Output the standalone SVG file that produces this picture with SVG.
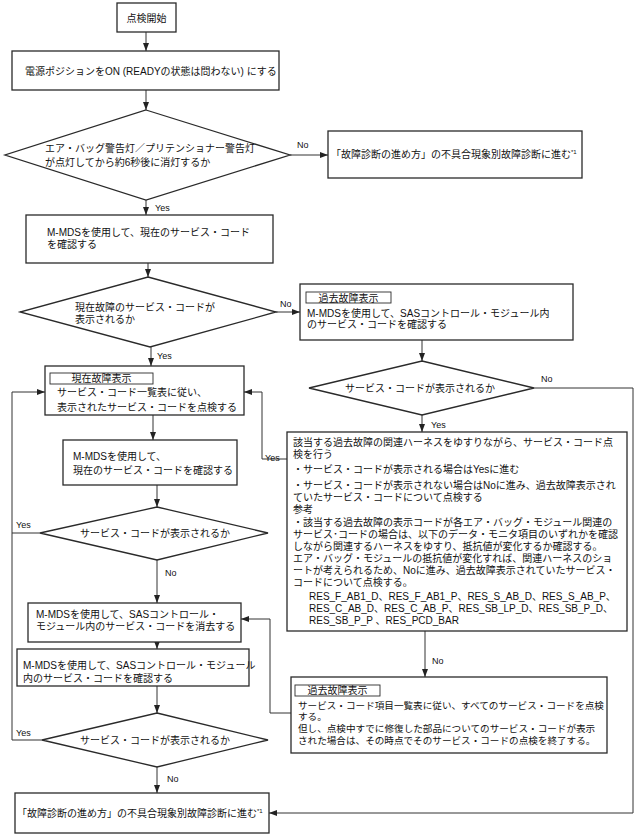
<svg xmlns="http://www.w3.org/2000/svg" width="636" height="836" viewBox="0 0 636 836">
<style>
.b{fill:#fff;stroke:#2a2a2a;stroke-width:1.3}
.lb{fill:#fff;stroke:#2a2a2a;stroke-width:0.9}
.t{font-family:"Liberation Sans","Noto Sans CJK JP",sans-serif;font-size:10px;fill:#111}
.sm{font-size:9.6px}
.m{text-anchor:middle}
.y{font-family:"Liberation Sans",sans-serif;font-size:9px;fill:#111}
.s{font-size:6px}
.c{fill:none;stroke:#333;stroke-width:1}
.a{marker-end:url(#ah)}
</style>
<defs>
<marker id="ah" markerUnits="userSpaceOnUse" markerWidth="9" markerHeight="6" refX="8" refY="3" orient="auto">
<path d="M0,0 L8,3 L0,6 z" fill="#222"/>
</marker>
</defs>
<rect width="636" height="836" fill="#fff"/>

<g id="connectors">
<path class="c a" d="M146,32 V51"/>
<path class="c a" d="M146,90 V110"/>
<path class="c a" d="M290,155 H328"/>
<path class="c a" d="M146,200 V215"/>
<path class="c a" d="M148,263 V277"/>
<path class="c a" d="M276,312 H300"/>
<path class="c a" d="M151,347 V366"/>
<path class="c a" d="M422,340 V361"/>
<path class="c a" d="M422,415 V432"/>
<path class="c" d="M534,388 H633 V813"/>
<path class="c a" d="M633,813 H269"/>
<path class="c a" d="M287,459 H262 V392 H244"/>
<path class="c a" d="M153,415 V440"/>
<path class="c a" d="M157,485 V507"/>
<path class="c" d="M40,533 H12"/>
<path class="c a" d="M42,740 H12 V392 H45"/>
<path class="c a" d="M157,560 V603"/>
<path class="c a" d="M425,631 V677"/>
<path class="c a" d="M291,713 H270 V619 H241"/>
<path class="c a" d="M157,642 V649"/>
<path class="c a" d="M157,686 V713"/>
<path class="c a" d="M157,767 V793"/>
<text class="y" x="297" y="148">No</text>
<text class="y" x="155" y="211">Yes</text>
<text class="y" x="280" y="307">No</text>
<text class="y" x="157" y="359">Yes</text>
<text class="y" x="541" y="382">No</text>
<text class="y" x="431" y="428">Yes</text>
<text class="y" x="265" y="461">Yes</text>
<text class="y" x="16" y="528">Yes</text>
<text class="y" x="165" y="576">No</text>
<text class="y" x="432" y="664">No</text>
<text class="y" x="16" y="736">Yes</text>
<text class="y" x="167" y="782">No</text>
</g>

<g id="start">
<rect class="b" x="117" y="3" width="59" height="29"/>
<text class="t m" x="146.5" y="21.5">点検開始</text>
</g>

<g id="power">
<rect class="b" x="12" y="51" width="267" height="39"/>
<text class="t" x="25" y="75">電源ポジションをON (READYの状態は問わない) にする</text>
</g>

<g id="warnlamp">
<polygon class="b" points="146,110 290,155 146,200 5,155"/>
<text class="t" x="45" y="151.5">エア・バッグ警告灯／プリテンショナー警告灯</text>
<text class="t" x="45" y="166">が点灯してから約6秒後に消灯するか</text>
</g>

<g id="goto1">
<rect class="b" x="328" y="131" width="254" height="47"/>
<text class="t" x="331" y="158">「故障診断の進め方」の不具合現象別故障診断に進む<tspan class="s" dy="-4">*1</tspan></text>
</g>

<g id="checkcurrent">
<rect class="b" x="26" y="215" width="247" height="48"/>
<text class="t" x="47" y="236">M-MDSを使用して、現在のサービス・コード</text>
<text class="t" x="47" y="248">を確認する</text>
</g>

<g id="currentq">
<polygon class="b" points="148,277 276,312 150,347 20,312"/>
<text class="t" x="75" y="311">現在故障のサービス・コードが</text>
<text class="t" x="75" y="323">表示されるか</text>
</g>

<g id="pastcheck">
<rect class="b" x="300" y="284" width="273" height="56"/>
<rect class="lb" x="306" y="292" width="85" height="11"/>
<text class="t m" x="348.5" y="301.5">過去故障表示</text>
<text class="t" x="307" y="316.5">M-MDSを使用して、SASコントロール・モジュール内</text>
<text class="t" x="307" y="328">のサービス・コードを確認する</text>
</g>

<g id="pastq">
<polygon class="b" points="422,361 534,388 422,415 309,388"/>
<text class="t m" x="420" y="391.5">サービス・コードが表示されるか</text>
</g>

<g id="currentdisp">
<rect class="b" x="45" y="366" width="199" height="49"/>
<rect class="lb" x="50" y="373" width="103" height="11"/>
<text class="t m" x="101.5" y="382">現在故障表示</text>
<text class="t" x="57" y="396">サービス・コード一覧表に従い、</text>
<text class="t" x="57" y="410.5">表示されたサービス・コードを点検する</text>
</g>

<g id="harness">
<rect class="b" x="287" y="432" width="340" height="199"/>
<text class="t" x="293" y="446">該当する過去故障の関連ハーネスをゆすりながら、サービス・コード点</text>
<text class="t" x="293" y="458">検を行う</text>
<text class="t" x="293" y="473">・サービス・コードが表示される場合はYesに進む</text>
<text class="t" x="293" y="488.5">・サービス・コードが表示されない場合はNoに進み、過去故障表示され</text>
<text class="t" x="293" y="500.5">ていたサービス・コードについて点検する</text>
<text class="t" x="293" y="512.5">参考</text>
<text class="t" x="293" y="525.5">・該当する過去故障の表示コードが各エア・バッグ・モジュール関連の</text>
<text class="t" x="293" y="537.5">サービス･コードの場合は、以下のデータ・モニタ項目のいずれかを確認</text>
<text class="t" x="293" y="549.5">しながら関連するハーネスをゆすり、抵抗値が変化するか確認する。</text>
<text class="t" x="293" y="561.5">エア・バッグ・モジュールの抵抗値が変化すれば、関連ハーネスのショ</text>
<text class="t" x="293" y="573.5">ートが考えられるため、Noに進み、過去故障表示されていたサービス・</text>
<text class="t" x="293" y="585.5">コードについて点検する。</text>
<text class="t" x="309" y="600">RES_F_AB1_D、RES_F_AB1_P、RES_S_AB_D、RES_S_AB_P、</text>
<text class="t" x="309" y="612">RES_C_AB_D、RES_C_AB_P、RES_SB_LP_D、RES_SB_P_D、</text>
<text class="t" x="309" y="624">RES_SB_P_P 、RES_PCD_BAR</text>
</g>

<g id="recheck">
<rect class="b" x="63" y="440" width="174" height="45"/>
<text class="t" x="73" y="460">M-MDSを使用して、</text>
<text class="t" x="73" y="474">現在のサービス・コードを確認する</text>
</g>

<g id="recheckq">
<polygon class="b" points="157,507 268,533 157,560 40,533"/>
<text class="t m" x="155" y="536.5">サービス・コードが表示されるか</text>
</g>

<g id="erase">
<rect class="b" x="28" y="603" width="213" height="39"/>
<text class="t" x="36" y="617.5">M-MDSを使用して、SASコントロール・</text>
<text class="t" x="36" y="630">モジュール内のサービス・コードを消去する</text>
</g>

<g id="pastall">
<rect class="b" x="291" y="677" width="316" height="76"/>
<rect class="lb" x="295" y="685" width="85" height="11"/>
<text class="t m" x="337.5" y="694">過去故障表示</text>
<text class="t sm" x="298" y="708.5">サービス・コード項目一覧表に従い、すべてのサービス・コードを点検</text>
<text class="t sm" x="298" y="720">する。</text>
<text class="t sm" x="298" y="732">但し、点検中すでに修復した部品についてのサービス・コードが表示</text>
<text class="t sm" x="298" y="744">された場合は、その時点でそのサービス・コードの点検を終了する。</text>
</g>

<g id="confirm">
<rect class="b" x="17" y="649" width="232" height="37"/>
<text class="t" x="23" y="669">M-MDSを使用して、SASコントロール・モジュール</text>
<text class="t" x="23" y="681.5">内のサービス・コードを確認する</text>
</g>

<g id="finalq">
<polygon class="b" points="157,713 268,740 157,767 42,740"/>
<text class="t m" x="155" y="743.5">サービス・コードが表示されるか</text>
</g>

<g id="goto2">
<rect class="b" x="15" y="793" width="254" height="40"/>
<text class="t" x="17" y="816.5">「故障診断の進め方」の不具合現象別故障診断に進む<tspan class="s" dy="-4">*1</tspan></text>
</g>
</svg>
